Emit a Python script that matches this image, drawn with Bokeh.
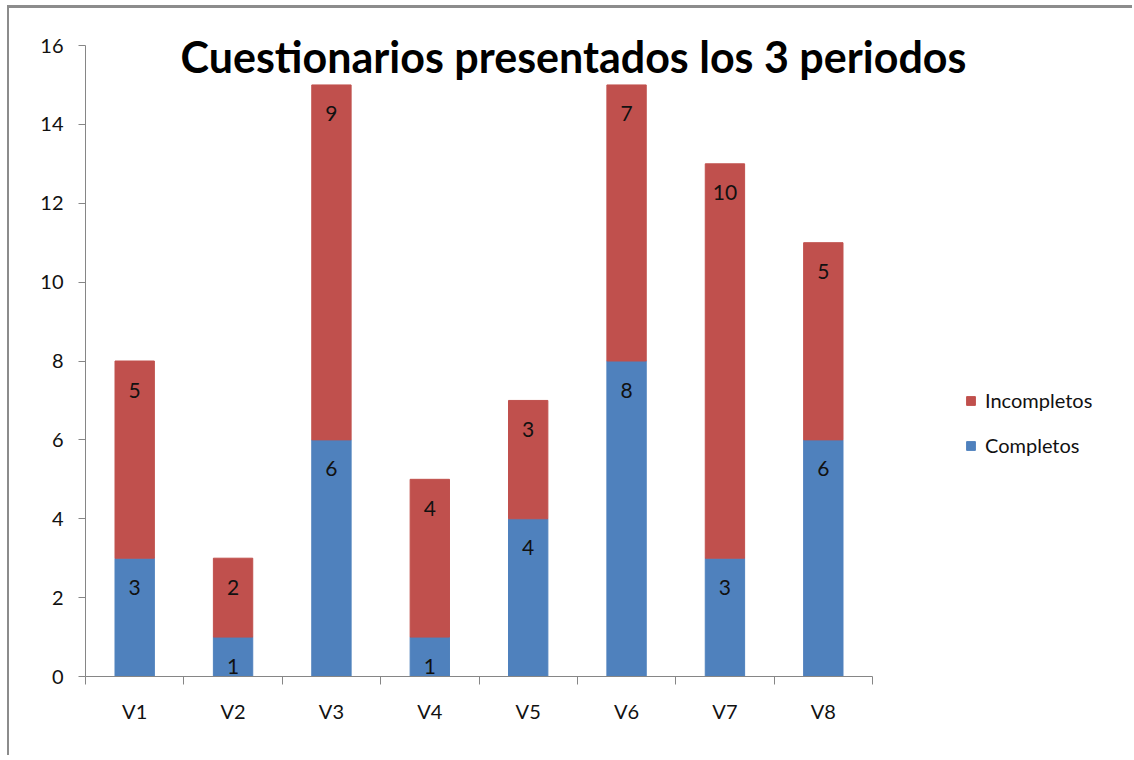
from bokeh.plotting import figure
from bokeh.models import (Range1d, FixedTicker, Legend, LegendItem, Label,
                          ColumnDataSource)
from bokeh.core.properties import value
from bokeh.embed import file_html
from bokeh.resources import INLINE

categories = ["V1", "V2", "V3", "V4", "V5", "V6", "V7", "V8"]
completos = [3, 1, 6, 1, 4, 8, 3, 6]
incompletos = [5, 2, 9, 4, 3, 7, 10, 5]
y_ticks = [0, 2, 4, 6, 8, 10, 12, 14, 16]
title_text = "Cuestionarios presentados los 3 periodos"

BLUE = "#4F81BD"
RED = "#C0504D"
AXIS = "#868686"
FONT = "Lato"

n = len(categories)
xs = [i + 0.5 for i in range(n)]
tops_c = completos
tops_i = [c + i for c, i in zip(completos, incompletos)]

src = ColumnDataSource(dict(x=xs, c=completos, i=incompletos,
                            top_c=tops_c, top_i=tops_i,
                            lab_c=[str(v) for v in completos],
                            lab_i=[str(v) for v in incompletos]))

W, H = 1125, 750
left_b, top_b = 76, 2
bottom_b = H - 668
frame_w = W - left_b
x_end = n * frame_w / 787.0
px_per_unit = 631 / 16.0
y_end = 16 + 35 / px_per_unit

p = figure(width=W, height=H, output_backend="svg", toolbar_location=None,
           x_range=Range1d(0, x_end), y_range=Range1d(0, y_end),
           min_border_left=left_b, min_border_top=top_b,
           min_border_bottom=bottom_b, min_border_right=0)
p.styles = {"border-left": "2px solid #8c8c8c", "border-top": "3px solid #8c8c8c",
            "margin-left": "7px", "margin-top": "5px"}
p.outline_line_color = None
p.grid.visible = False
p.background_fill_color = "white"
p.border_fill_color = "white"

bw = 0.40
rc = p.vbar(x="x", bottom=0, top="top_c", width=bw, color=BLUE, source=src)
ri = p.vbar(x="x", bottom="top_c", top="top_i", width=bw, color=RED, source=src)

for top, lab in (("top_c", "lab_c"), ("top_i", "lab_i")):
    p.text(x="x", y=top, text=lab, source=src, y_offset=29,
           text_align="center", text_baseline="middle",
           text_font=value(FONT), text_font_size="21px", text_color="#111111")

# x axis: labels at centres, ticks at boundaries (minor ticks)
xa = p.xaxis[0]
xa.ticker = FixedTicker(ticks=xs, minor_ticks=list(range(n + 1)))
xa.major_label_overrides = {x: c for x, c in zip(xs, categories)}
xa.bounds = (0, n)
xa.axis_line_color = AXIS
xa.major_tick_line_color = None
xa.major_tick_out = 8
xa.major_tick_in = 0
xa.minor_tick_line_color = AXIS
xa.minor_tick_out = 8
xa.minor_tick_in = 0
xa.major_label_standoff = 14
xa.major_label_text_font = FONT
xa.major_label_text_font_size = "20px"
xa.major_label_text_color = "#111111"

ya = p.yaxis[0]
ya.ticker = FixedTicker(ticks=y_ticks)
ya.bounds = (0, 16)
ya.axis_line_color = AXIS
ya.major_tick_line_color = AXIS
ya.major_tick_out = 7
ya.major_tick_in = 0
ya.minor_tick_line_color = None
ya.major_label_standoff = 15
ya.major_label_text_font = FONT
ya.major_label_text_font_size = "20px"
ya.major_label_text_color = "#111111"

title = Label(x=(573 - 85) / 787.0 * n, y=16 - 11 / px_per_unit,
              text=title_text, text_align="center", text_baseline="middle",
              text_font=FONT, text_font_style="bold", text_font_size="43px",
              text_color="#000000")
p.add_layout(title)

legend = Legend(items=[LegendItem(label="Incompletos", renderers=[ri]),
                       LegendItem(label="Completos", renderers=[rc])],
                location=(880, 219), orientation="vertical",
                glyph_width=11, glyph_height=11, label_height=20,
                label_standoff=9, spacing=21, padding=0, margin=0,
                border_line_color=None, background_fill_alpha=0,
                label_text_font=FONT, label_text_font_size="20px",
                label_text_color="#111111")
p.add_layout(legend)

open("out.html", "w").write(file_html(p, INLINE))
